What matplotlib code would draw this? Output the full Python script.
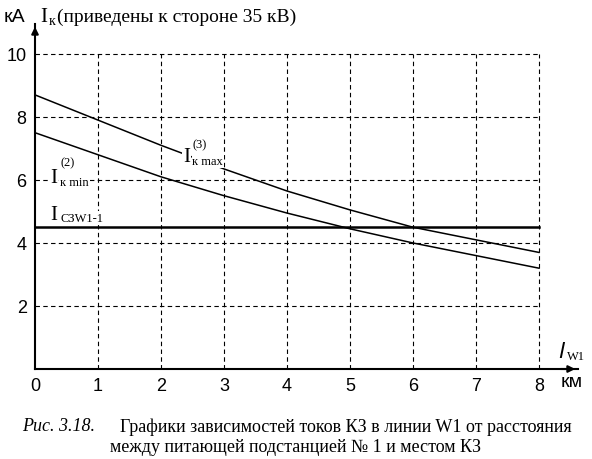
import numpy as np
import matplotlib.pyplot as plt

plt.rcParams['font.family'] = ['Liberation Serif', 'DejaVu Serif']

km = [0, 1, 2, 3, 4, 5, 6, 7, 8]
i_max = [8.7, 7.9, 7.1, 6.35, 5.65, 5.05, 4.5, 4.1, 3.7]
i_min = [7.5, 6.8, 6.1, 5.5, 4.95, 4.45, 4.0, 3.6, 3.2]
i_sz = 4.5
xticks = [0, 1, 2, 3, 4, 5, 6, 7, 8]
yticks = [2, 4, 6, 8, 10]

fig = plt.figure(figsize=(5.92, 4.60), dpi=100)
ax = fig.add_axes([35/592, 90/460, 543/592, 345/460])
ax.set_xlim(0, 8.62)
ax.set_ylim(0, 10.95)

for x in xticks[1:]:
    ax.plot([x, x], [0, 10], ls=(0, (4, 3)), color='k', lw=0.8)
for y in yticks:
    ax.plot([0, 8], [y, y], ls=(0, (4, 3)), color='k', lw=0.8)

ax.plot(km, i_max, color='k', lw=1.1)
ax.plot(km, i_min, color='k', lw=1.1)
ax.plot([0, 8], [i_sz, i_sz], color='k', lw=1.8)

for s in ['top', 'right']:
    ax.spines[s].set_visible(False)
ax.spines['left'].set_linewidth(1.5)
ax.spines['bottom'].set_linewidth(1.5)
ax.annotate('', xy=(8.62, 0), xytext=(8.3, 0),
            arrowprops=dict(arrowstyle='-|>', color='k', lw=1.5), annotation_clip=False)
ax.annotate('', xy=(0, 10.95), xytext=(0, 10.5),
            arrowprops=dict(arrowstyle='-|>', color='k', lw=1.5), annotation_clip=False)

ax.set_xticks(xticks)
ax.set_xticklabels([str(v) for v in xticks], fontsize=13, family='Liberation Sans')
ax.set_yticks(yticks)
ax.set_yticklabels([str(v) for v in yticks], fontsize=13, family='Liberation Sans')
ax.tick_params(length=0, pad=6)

ax.text(8.35, -0.4, 'км', fontsize=14, family='Liberation Sans', va='center')
ax.text(8.3, 0.55, r'$l$', fontsize=16, va='center')
ax.text(8.45, 0.4, 'W1', fontsize=9, va='center')
ax.text(-0.5, 11.2, 'кА', fontsize=14, family='Liberation Sans', va='center')
ax.text(0.08, 11.2, 'I', fontsize=15, va='center')
ax.text(0.22, 11.05, 'к', fontsize=10, va='center')
ax.text(0.35, 11.2, '(приведены к стороне 35 кВ)', fontsize=14, va='center')

wb = dict(facecolor='white', edgecolor='none', pad=0.5)
ax.text(2.35, 6.6, 'I', fontsize=15, bbox=wb)
ax.text(2.5, 6.5, 'к max', fontsize=9, bbox=wb)
ax.text(2.5, 7.05, '(3)', fontsize=9, bbox=wb)
ax.text(0.25, 5.95, 'I', fontsize=15, bbox=wb)
ax.text(0.4, 5.85, 'к min', fontsize=9, bbox=wb)
ax.text(0.4, 6.45, '(2)', fontsize=9, bbox=wb)
ax.text(0.25, 4.75, 'I', fontsize=15, bbox=wb)
ax.text(0.4, 4.7, 'СЗW1-1', fontsize=9, bbox=wb)

fig.text(22/592, 33/460, 'Рис. 3.18.', style='italic', ha='left', va='center', fontsize=13)
fig.text(572/592, 33/460, 'Графики зависимостей токов КЗ в линии W1 от расстояния',
         ha='right', va='center', fontsize=13)
fig.text(0.5, 12/460, 'между питающей подстанцией № 1 и местом КЗ',
         ha='center', va='center', fontsize=13)

fig.savefig('out.png', dpi=100)
